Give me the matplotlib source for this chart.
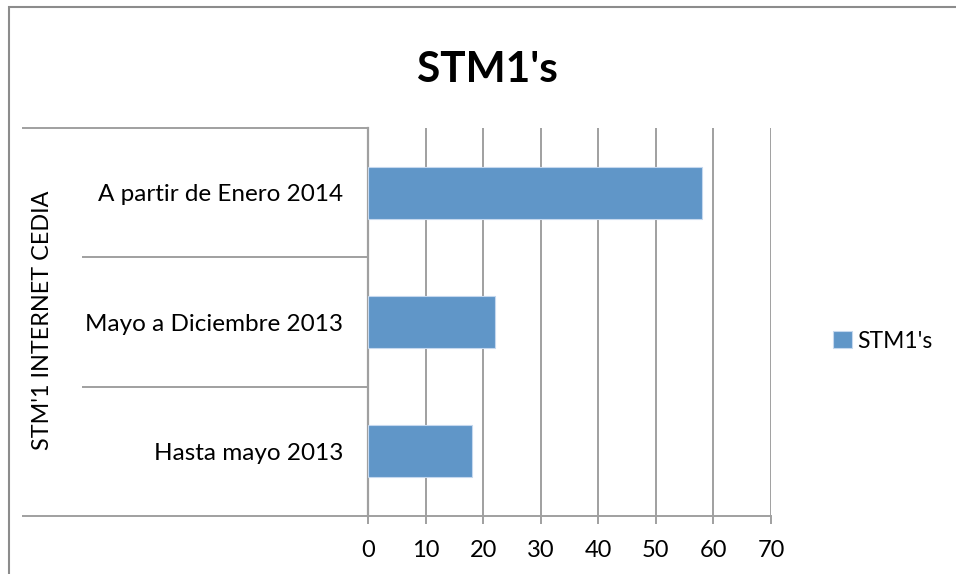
import matplotlib
matplotlib.use("Agg")
import matplotlib.pyplot as plt
from matplotlib.patches import Rectangle

plt.rcParams['font.family'] = ['Lato', 'DejaVu Sans']

categories = ["Hasta mayo 2013", "Mayo a Diciembre 2013", "A partir de Enero 2014"]
values = [18, 22, 58]
series_name = "STM1's"
title = "STM1's"
ylabel = "STM'1 INTERNET CEDIA"
xticks = [0, 10, 20, 30, 40, 50, 60, 70]

W, H = 956, 574
fig = plt.figure(figsize=(W / 100, H / 100), dpi=100)
ax_l, ax_r = 368, 771
ax = fig.add_axes([ax_l / W, 1 - 516 / H, (ax_r - ax_l) / W, (516 - 128) / H])

bar_color = "#6096C8"
grid_color = "#A0A0A0"
ypos = list(range(len(categories)))
ax.barh(ypos, values, height=0.4, color=bar_color, edgecolor="#C5D8EE",
        linewidth=0.8, label=series_name, zorder=3)

ax.set_xlim(0, 70)
ax.set_ylim(-0.5, len(categories) - 0.5)
ax.set_xticks(xticks)
ax.set_xticklabels([str(t) for t in xticks], fontsize=17)
ax.set_yticks(ypos)
ax.set_yticklabels(categories, fontsize=17.5)

ax.tick_params(axis='y', which='major', length=0, pad=18)
ax.tick_params(axis='x', which='major', length=6, width=1.4, color=grid_color,
               pad=11)

# category separator lines extending left of the axis
ytr = ax.get_yaxis_transform()
outer_x = (22 - ax_l) / (ax_r - ax_l)
inner_x = (82 - ax_l) / (ax_r - ax_l)
n = len(categories)
ax.hlines([-0.5, n - 0.5], outer_x, 0, transform=ytr, colors=grid_color,
          linewidth=1.4, clip_on=False)
ax.hlines([i + 0.5 for i in range(n - 1)], inner_x, 0, transform=ytr,
          colors=grid_color, linewidth=1.4, clip_on=False)

ax.grid(axis='x', color=grid_color, linewidth=1.4, zorder=0)
for s in ['top', 'right']:
    ax.spines[s].set_visible(False)
ax.spines['left'].set_color(grid_color)
ax.spines['left'].set_linewidth(1.6)
ax.spines['bottom'].set_color(grid_color)
ax.spines['bottom'].set_linewidth(1.4)

fig.text(487 / W, 1 - 70 / H, title, fontsize=30.5, fontweight='bold',
         ha='center', va='center')
fig.text(43 / W, 1 - 320 / H, ylabel, fontsize=16.8, rotation=90,
         ha='center', va='center')

fig.legend(loc='center left', bbox_to_anchor=(824 / W, 1 - 341 / H),
           frameon=False, fontsize=16.5, handlelength=0.8, handleheight=0.8,
           handletextpad=0.25, borderaxespad=0)

fig.patches.append(Rectangle((9 / W, -0.1), 1.2, 1.1 - 7 / H,
                             transform=fig.transFigure, fill=False,
                             edgecolor="#8C8C8C", linewidth=1.5, clip_on=False))

fig.savefig("out.png", dpi=100)
